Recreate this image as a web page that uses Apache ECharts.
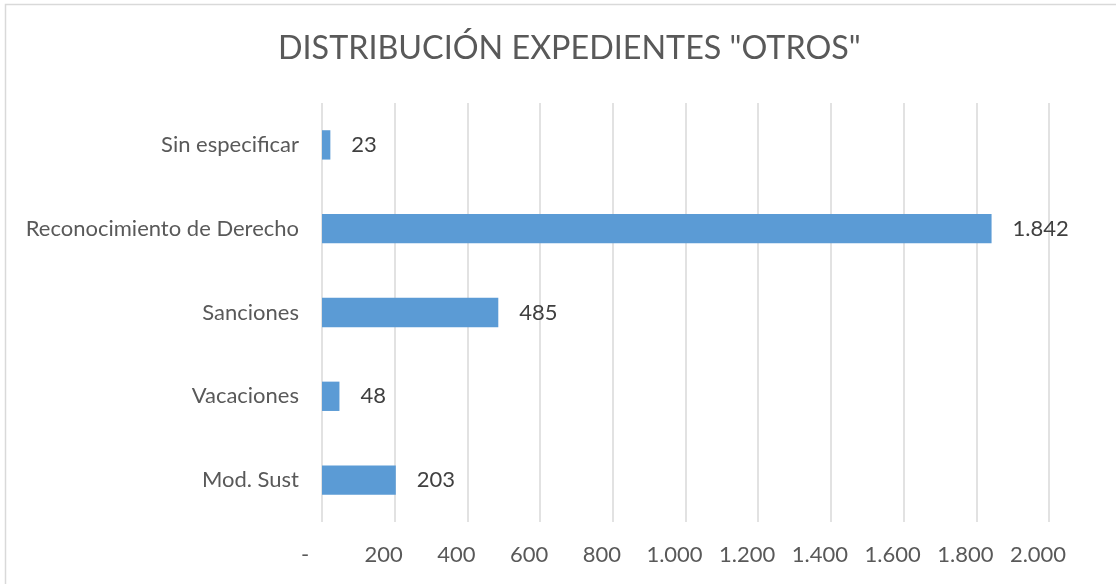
<!DOCTYPE html>
<html>
<head>
<meta charset="utf-8">
<script src="https://cdn.jsdelivr.net/npm/echarts@6/dist/echarts.min.js"></script>
<style>html,body{margin:0;padding:0;background:#fff}#c{width:1116px;height:584px}</style>
</head>
<body>
<div id="c"></div>
<script>
var categories = ['Mod. Sust', 'Vacaciones', 'Sanciones', 'Reconocimiento de Derecho', 'Sin especificar'];
var values = [203, 48, 485, 1842, 23];
var titleText = 'DISTRIBUCIÓN EXPEDIENTES "OTROS"';
var axisMax = 2000;
var axisStep = 200;

function fmt(v) {
  if (v === 0) return '-';
  return String(v).replace(/\B(?=(\d{3})+(?!\d))/g, '.');
}

var FONT = 'Lato';
var FS = 22;
var chart = echarts.init(document.getElementById('c'), null, {renderer: 'canvas'});
chart.setOption({
  animation: false,
  backgroundColor: '#ffffff',
  textStyle: {fontFamily: FONT},
  title: {
    text: titleText,
    left: 278,
    top: 33,
    padding: 0,
    textStyle: {fontFamily: FONT, fontSize: 32.3, fontWeight: 'normal', color: '#595959'}
  },
  graphic: [{
    type: 'rect',
    shape: {x: 5.5, y: 4.5, width: 1300, height: 800},
    style: {fill: 'none', stroke: '#d9d9d9', lineWidth: 1.5},
    silent: true
  }],
  grid: {left: 322, right: 67, top: 103, bottom: 62, containLabel: false},
  xAxis: {
    type: 'value',
    min: 0,
    max: axisMax,
    interval: axisStep,
    axisLine: {show: false},
    axisTick: {show: false},
    splitLine: {show: true, lineStyle: {color: '#d9d9d9', width: 1.5}},
    axisLabel: {
      color: '#595959',
      fontFamily: FONT,
      fontSize: FS,
      margin: 22,
      formatter: function (v) { return v === 0 ? '{z|-}' : '{n|' + fmt(v) + '}'; },
      rich: {
        z: {color: '#595959', fontFamily: FONT, fontSize: FS, padding: [0, 34, 0, 0]},
        n: {color: '#595959', fontFamily: FONT, fontSize: FS, padding: [0, 22, 0, 0]}
      }
    }
  },
  yAxis: {
    type: 'category',
    data: categories,
    axisLine: {show: false},
    axisTick: {show: false},
    splitLine: {show: false},
    axisLabel: {color: '#595959', fontFamily: FONT, fontSize: FS, margin: 23}
  },
  series: [{
    type: 'bar',
    data: values,
    barWidth: '35%',
    itemStyle: {color: '#5b9bd5'},
    label: {
      show: true,
      position: 'right',
      distance: 21,
      color: '#404040',
      fontFamily: FONT,
      fontSize: FS,
      formatter: function (p) { return fmt(p.value); }
    }
  }]
});
</script>
</body>
</html>
